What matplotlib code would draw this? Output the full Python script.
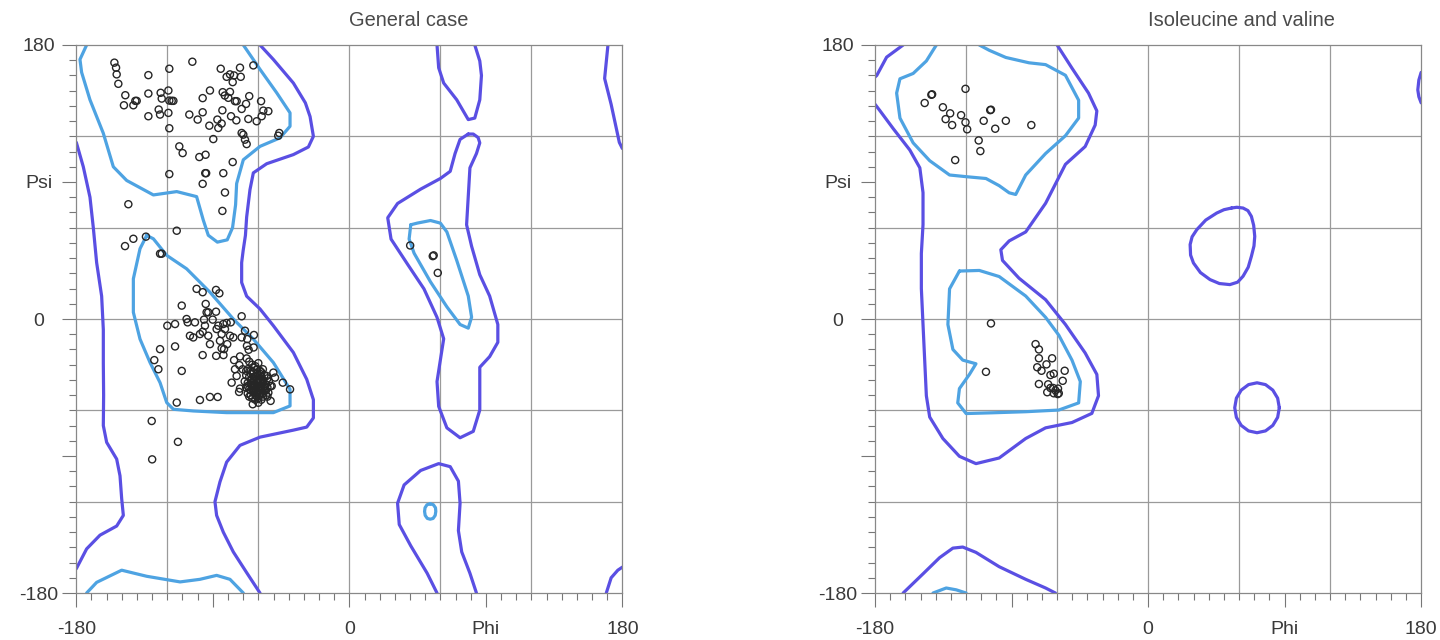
"""Ramachandran plots: general case vs isoleucine/valine, contours + residues."""
import matplotlib
matplotlib.use("Agg")
import matplotlib.pyplot as plt
from matplotlib.ticker import MultipleLocator

plt.rcParams["font.family"] = ["Liberation Sans", "DejaVu Sans"]

OUTER_COLOR = "#5a4fe3"
INNER_COLOR = "#4ea3e2"
GRID_COLOR = "#9a9a9a"
TEXT_COLOR = "#3a3a3a"

GRID_LINES = [-120, -60, 0, 60, 120]
MAJOR_TICKS = [-180, -90, 0, 90, 180]
X_LABELS = ["-180", "", "0", "Phi", "180"]
Y_LABELS = ["-180", "", "0", "Psi", "180"]

# ---- General case: contour paths as (phi, psi) in degrees ----
GEN_OUTER = [
    [(-180, 116), (-175.4, 100), (-171, 80), (-168.8, 60), (-166.6, 37), (-163.3, 15),
     (-162.2, -7), (-162.2, -29), (-162, -50), (-162.2, -70), (-160, -81), (-153.4, -92),
     (-151.2, -103), (-150.1, -118), (-149, -129), (-153.4, -136), (-164.4, -142),
     (-173.2, -151), (-180, -164)],
    [(170.5, 180), (168.3, 158), (172.6, 141), (178, 116), (180, 112)],
    [(180, -163), (177, -165), (172.6, -170), (169.4, -180)],
    [(-58.9, 180), (-50.1, 170.5), (-36.9, 155), (-29, 142), (-25.9, 133), (-23.7, 120),
     (-27, 113), (-36.9, 108), (-54.5, 102), (-63.3, 96), (-65.5, 85), (-67.7, 67),
     (-68.5, 55), (-70, 45), (-71, 37), (-71, 24), (-67.7, 15), (-58.9, 6.6), (-50.1, -4.4),
     (-36.9, -22), (-28.1, -39.6), (-23.7, -53), (-23.7, -65), (-28.1, -71),
     (-36.9, -73), (-58.9, -77.6), (-72.1, -83), (-80.9, -94), (-85.3, -107),
     (-88.6, -120), (-87.5, -129), (-83.1, -140), (-76.5, -153), (-67.7, -166.6),
     (-58.9, -180)],
    [(57.8, 180), (58.9, 165), (62.2, 155), (70.8, 144), (78.4, 131), (82.7, 132),
     (86, 144), (87.1, 160), (86, 169.5), (82.7, 180)],
    [(57.8, -180), (51.3, -167), (40.5, -149), (32.9, -135), (31.8, -121), (36.1, -109),
     (47, -99.5), (58.9, -95), (66.5, -97), (71.9, -106.5), (73, -121), (71.9, -139),
     (74.1, -153), (79.5, -167), (83.8, -180)],
    [(78.4, 121.5), (73, 118), (69.7, 108.7), (66.5, 97), (60, 92.3), (47, 85.3),
     (31.8, 75.9), (25.3, 66.5), (27.5, 52.5), (38.3, 36.1), (49.2, 19.8), (57.8, 1.1),
     (62.2, -13), (60, -27), (57.8, -41.1), (58.9, -57.4), (64.3, -71.5), (73, -78),
     (81.7, -73.8), (86, -59.8), (86, -41.1), (86, -31.7), (92.5, -24.7), (97.9, -15.3),
     (97.9, -3.6), (92.5, 15.1), (86, 29.1), (80.6, 47.8), (77.3, 61.9), (78.4, 80.6),
     (79.5, 99.3), (83.8, 108.7), (86, 115.7), (84.9, 119.2), (81.7, 121.5), (78.4, 121.5)],
]

GEN_INNER = [
    [(-173.2, 180), (-177.6, 170.5), (-176.5, 162), (-171, 144), (-162.2, 122),
     (-155.6, 100), (-146.8, 91), (-129.2, 81.5), (-113.8, 83.7), (-100.7, 80.4),
     (-96.3, 65), (-93, 55), (-87, 50.5), (-80.5, 52), (-77, 60), (-75, 75), (-74.3, 89),
     (-69.9, 104.6), (-58.9, 113.4), (-45.7, 119), (-39.1, 126.6), (-39.1, 135.4),
     (-47.9, 148.6), (-58.9, 164), (-69.9, 180)],
    [(-173.2, -180), (-166.6, -173), (-150.1, -165), (-133.6, -169), (-111.6, -172.7),
     (-98.5, -171), (-87.5, -168.4), (-78.7, -171), (-69.9, -180)],
    [(-133.6, 54.9), (-138, 46.2), (-142.4, 26.4), (-142.4, 4.4), (-138, -13.2),
     (-131.4, -28.6), (-124.8, -41.8), (-120.4, -54.9), (-116, -59.3), (-102.9, -60.4),
     (-80.9, -61.5), (-50.1, -61.5), (-39.1, -57.1), (-39.1, -46.2), (-50.1, -28.6),
     (-63.3, -13.2), (-76.5, 0), (-91.9, 17.6), (-107.3, 33), (-120.4, 41.8),
     (-129.2, 52.7), (-133.6, 54.9)],
    [(40.5, 61.9), (39.4, 52.5), (42.7, 43.2), (53.5, 24.4), (64.3, 8), (73, -3.6),
     (78.4, -6), (80.6, 1.2), (78.4, 15.1), (70.8, 38.5), (64.3, 57.2), (60, 63),
     (53.5, 64.7), (44.8, 63), (40.5, 61.9)],
    [(53.3, -121.4), (55.4, -122), (56.8, -124), (57, -126.4), (56.6, -129), (55.2, -131),
     (53.3, -131.5), (51.4, -131), (50, -129), (49.6, -126.4), (49.9, -124),
     (51.2, -122), (53.3, -121.4)],
]

GEN_POINTS = [
    # beta region
    (-154.9, 168.4), (-153.8, 165.1), (-153.4, 160.7), (-152.3, 154.5), (-132.5, 160.2),
    (-118.7, 164.4), (-103.5, 169), (-147.7, 147), (-148.6, 140.4), (-142.4, 140.4),
    (-141.1, 143.3), (-140.2, 143.3), (-132.5, 148.1), (-132.5, 133.2), (-125.7, 137.6),
    (-124.8, 134.3), (-124.4, 148.6), (-123.7, 144.8), (-119.3, 150.1), (-118.7, 143.5),
    (-117.1, 143.3), (-116, 143.3), (-119.3, 135.4), (-118.7, 125.3), (-105.5, 134.3),
    (-100, 131), (-96.7, 135.8), (-96.7, 145.1), (-91.9, 150.1), (-92.3, 127), (-87, 131),
    (-86.4, 125.5), (-84.2, 128.4), (-83.7, 137.1), (-89.7, 118.2), (-84.8, 164.4),
    (-80.9, 159.1), (-78.7, 160.7), (-76.9, 155.6), (-76, 160), (-72.1, 165.1),
    (-71.6, 159.1), (-63.3, 166.6), (-83.5, 149), (-82.1, 146.8), (-78.7, 149.2),
    (-79.8, 145.3), (-75.4, 143.1), (-74.3, 143.1), (-71, 138), (-68.1, 141.3), (-66, 146.4),
    (-66.6, 131.4), (-78, 133.2), (-74.5, 130.5), (-61.1, 129.9), (-58.2, 143.1),
    (-56.7, 136.9), (-53.4, 136.5), (-57.8, 133.2), (-71, 122.2), (-69.9, 121.1),
    (-68.8, 117.8), (-67.7, 114.9), (-46.2, 122.2), (-46.9, 120.4), (-112.1, 113.4),
    (-109.9, 109), (-98.9, 106.4), (-94.8, 107.9), (-76.9, 103.1), (-118.7, 95.2),
    (-95, 95.8), (-94.4, 95.8), (-83.1, 95.8), (-96.7, 88.8), (-82, 83.1), (-83.7, 71),
    (-145.7, 75.4), (-113.8, 58),
    # alpha region
    (-147.9, 47.9), (-142.4, 52.7), (-134.1, 54.1), (-124.8, 42.9), (-123.7, 42.9),
    (-100.7, 19.8), (-96.7, 17.6), (-87.9, 19.1), (-85.7, 16.9), (-110.5, 8.8),
    (-94.7, 9.9), (-94.1, 4.4), (-93, 4.4), (-87.9, 4.8), (-71, 1.8), (-120, -4.4),
    (-114.9, -3.3), (-107.3, 0), (-106.6, -2.2), (-101.8, -2.2), (-95.8, -0.4),
    (-90.1, -0.4), (-83.1, -3.3), (-80.9, -2.6), (-78.2, -2.2), (-86.4, -4.4),
    (-95.2, -4.4), (-105.1, -11), (-102.9, -12.1), (-98.5, -9.9), (-96.7, -8.4),
    (-93, -11), (-87.5, -6.6), (-84.2, -9.9), (-82, -6.6), (-78.7, -11), (-76.5, -12.1),
    (-71, -12.1), (-68.8, -7.7), (-62.9, -10.5), (-67.3, -13.2), (-91.9, -16.5),
    (-85.3, -14.3), (-80.5, -16.5), (-124.8, -19.8), (-114.9, -18), (-84.2, -19.3),
    (-82.6, -19.8), (-67.5, -17.6), (-66.4, -20.2), (-63.1, -18.7), (-96.7, -23.7),
    (-87.8, -24.2), (-83, -23.7), (-72.1, -24.6), (-67.7, -25.9), (-128.6, -27),
    (-125.9, -33), (-110.5, -34.1), (-76, -27), (-75.4, -33), (-72.5, -30.3), (-70.3, -33),
    (-77.6, -41.8), (-74.3, -37.4), (-72.1, -45.7), (-72.7, -47.9), (-113.8, -54.9),
    (-98.5, -53.2), (-91.9, -51.2), (-86.8, -51.2), (-63.7, -56), (-51.9, -53.8),
    (-50.1, -35.2), (-49, -38.5), (-43.9, -41.8), (-39.1, -46.2), (-54.5, -37.4),
    (-56.7, -40.7), (-58.9, -44), (-55.6, -46.2), (-53.4, -48.4), (-51.2, -44),
    # dense helical cluster
    (-66, -28), (-64, -30), (-62, -31), (-60, -29), (-67, -33), (-65, -34), (-63, -35),
    (-61, -33), (-59, -34), (-57, -33), (-68, -37), (-66, -38), (-64, -39), (-62, -38),
    (-60, -37), (-58, -38), (-56, -37), (-54, -39), (-69, -41), (-67, -42), (-65, -43),
    (-63, -41), (-61, -42), (-59, -41), (-57, -42), (-55, -43), (-53, -41), (-68, -45),
    (-66, -46), (-64, -45), (-62, -46), (-60, -45), (-58, -46), (-56, -47), (-54, -45),
    (-67, -49), (-65, -50), (-63, -48), (-61, -49), (-59, -50), (-57, -49), (-55, -50),
    (-64, -52), (-62, -53), (-60, -52), (-58, -53), (-63, -44), (-61, -40), (-65, -47),
    (-59, -44), (-63, -32), (-61, -36), (-65, -36), (-59, -36), (-57, -40), (-61, -44),
    (-63, -47), (-59, -47), (-61, -51), (-57, -51), (-55, -47), (-65, -40), (-67, -44),
    (-62, -43), (-60, -40), (-58, -43), (-60, -48), (-62, -50), (-64, -42), (-56, -44),
    (-66, -51), (-60, -55), (-63, -38), (-58, -35), (-52, -44), (-54, -51), (-68, -34),
    # below alpha
    (-130.3, -67), (-113, -80.7), (-130, -92.2),
    # left-handed region
    (40.1, 48.3), (55, 41.3), (55.6, 41.8), (58.3, 30.3),
]

# ---- Isoleucine and valine ----
IV_OUTER = [
    [(-161.5, 180), (-172.4, 172), (-178.9, 160), (-180, 159)],
    [(-180, 141), (-176.7, 136.7), (-168, 125), (-157.1, 111), (-150.5, 99.3), (-148.4, 83),
     (-148.4, 62), (-149.5, 43), (-149.5, 20), (-148.4, -3.6), (-147.3, -27),
     (-146.2, -50.4), (-144, -64.4), (-135.3, -78.5), (-124.4, -90.2), (-113.5, -95),
     (-98.2, -91.3), (-80.7, -78.5), (-67.6, -71.5), (-50.2, -68), (-37.1, -62),
     (-32.7, -50.4), (-33.8, -36.4), (-41.5, -22.3), (-54.5, -3.6), (-67.6, 12.7),
     (-85.1, 26.8), (-96, 38.5), (-97.1, 45.5), (-91.6, 51.3), (-80.7, 57.2), (-67.6, 76),
     (-54.5, 101.6), (-41.5, 113.3), (-34.9, 127.4), (-33.8, 136.7), (-39.3, 148.4),
     (-50.2, 164.8), (-60, 180)],
    [(-161.5, -180), (-148.4, -167.4), (-137.5, -156.8), (-128.7, -150.5), (-122.2, -149.8),
     (-113.5, -153.3), (-98.2, -162.7), (-80.7, -171), (-67.6, -176.7), (-61.1, -180)],
    [(180, 162), (178.5, 157), (177.8, 150.5), (178.5, 146), (180, 142)],
    [(55, 72.9), (50, 71.8), (45.2, 69.6), (38, 65), (32.1, 58.7), (29, 54), (27.7, 48.9),
     (28, 42), (29.9, 36.8), (34.5, 30.5), (40.8, 25.9), (47, 23.3), (53.9, 22.6),
     (59, 24.2), (62.6, 28.1), (66, 34), (68.1, 41.2), (69.8, 48), (70.3, 54.3),
     (69.6, 61.5), (68.1, 67.4), (65.8, 71.2), (62.6, 72.9), (58.5, 73.4), (55, 72.9)],
    [(86.5, -58.3), (85.4, -52), (82.2, -46.7), (77.4, -43.1), (71.8, -41.9),
     (66.2, -43.1), (61.4, -46.7), (58.2, -52), (57.1, -58.3), (58.2, -64.6),
     (61.4, -69.9), (66.2, -73.5), (71.8, -74.7), (77.4, -73.5), (82.2, -69.9),
     (85.4, -64.6), (86.5, -58.3)],
]

IV_INNER = [
    [(-139.6, 180), (-146.2, 169.5), (-154.9, 161.3), (-163.6, 157.8), (-165.8, 148.4),
     (-163.6, 132), (-154.9, 115.7), (-144, 104), (-130.9, 94.6), (-120, 93.5),
     (-106.9, 92.3), (-98.2, 87.6), (-91.6, 82.9), (-87.3, 81.8), (-80.7, 94.6),
     (-67.6, 108.7), (-54.5, 120.4), (-45.8, 132), (-45.8, 143.7), (-54.5, 160.1),
     (-67.6, 167.1), (-78.5, 168.3), (-93.8, 171.8), (-104.7, 176.5), (-111.3, 180)],
    [(-141.8, -180), (-133.1, -176.7), (-126.5, -177.9), (-120, -180)],
    [(-124.4, 31.5), (-130.9, 19.8), (-132, -3.6), (-128.7, -20), (-122.2, -27),
     (-113.5, -29.4), (-117.8, -36.4), (-124.4, -45.7), (-125.5, -55.1), (-120, -62.1),
     (-102.5, -61.6), (-80.7, -60.9), (-58.9, -59.8), (-45.8, -55.1), (-44.7, -41.1),
     (-50.2, -27), (-58.9, -10.6), (-67.6, 1.1), (-80.7, 15.1), (-98.2, 27.9),
     (-111.3, 31.9), (-124.4, 31.5)],
]

IV_POINTS = [
    (-142.9, 147.3), (-142.4, 147.6), (-147.3, 141.9), (-120.4, 151.2), (-135.3, 139.1),
    (-130.5, 135.1), (-123.3, 133.9), (-133.5, 131.3), (-120.4, 129.2), (-129.2, 127.4),
    (-119.3, 124.6), (-104.1, 137.2), (-103.6, 137.5), (-108.4, 130.2), (-93.8, 130.2),
    (-100.8, 125), (-77, 127.4), (-111.7, 117.3), (-110.6, 110.3), (-127.2, 104.4),
    (-103.6, -2.9), (-106.9, -34.7), (-74.2, -16.5), (-72, -20), (-72, -25.8),
    (-63.3, -25.8), (-67, -29.8), (-73.1, -31.7), (-70.3, -34), (-64.4, -36.8),
    (-62.2, -35.9), (-55, -34), (-56.3, -40.6), (-72, -42.7), (-65.9, -42.9),
    (-64.4, -45.3), (-62.6, -45.3), (-61.1, -46.9), (-59.4, -45.7), (-66.5, -48.1),
    (-62.2, -48.8), (-59.6, -49.3), (-58.9, -48.8),
]


def draw_panel(fig, rect, title, outer, inner, points):
    ax = fig.add_axes(rect)
    ax.set_xlim(-180, 180)
    ax.set_ylim(-180, 180)

    for v in GRID_LINES:
        ax.axvline(v, color=GRID_COLOR, lw=0.9, zorder=0)
        ax.axhline(v, color=GRID_COLOR, lw=0.9, zorder=0)

    for seg in outer:
        phi, psi = zip(*seg)
        ax.plot(phi, psi, color=OUTER_COLOR, lw=2.3, solid_capstyle="round",
                solid_joinstyle="round", zorder=2)
    for seg in inner:
        phi, psi = zip(*seg)
        ax.plot(phi, psi, color=INNER_COLOR, lw=2.3, solid_capstyle="round",
                solid_joinstyle="round", zorder=2)

    phi, psi = zip(*points)
    ax.scatter(phi, psi, s=26, facecolors="none", edgecolors="#262626",
               linewidths=1.0, zorder=3)

    ax.set_xticks(MAJOR_TICKS)
    ax.set_xticklabels(X_LABELS)
    ax.set_yticks(MAJOR_TICKS)
    ax.set_yticklabels(Y_LABELS)
    ax.xaxis.set_minor_locator(MultipleLocator(10))
    ax.yaxis.set_minor_locator(MultipleLocator(10))
    ax.tick_params(which="major", length=10, width=0.8, color="#777777",
                   labelsize=14, labelcolor=TEXT_COLOR)
    ax.tick_params(which="minor", length=5, width=0.8, color="#777777")
    ax.tick_params(axis="x", which="major", pad=10)
    ax.tick_params(axis="y", which="major", pad=17)
    for lbl in ax.get_yticklabels():
        lbl.set_horizontalalignment("center")

    for sp in ax.spines.values():
        sp.set_color("#888888")
        sp.set_linewidth(0.9)

    ax.text(0, 1.045, title, transform=ax.get_xaxis_transform(), ha="left",
            va="center", fontsize=14.4, color="#4a4a4a")
    return ax


fig = plt.figure(figsize=(14.4, 6.4), dpi=100)
draw_panel(fig, [0.053, 0.0734, 0.3792, 0.8563], "General case",
           GEN_OUTER, GEN_INNER, GEN_POINTS)
draw_panel(fig, [0.6077, 0.0734, 0.3792, 0.8563], "Isoleucine and valine",
           IV_OUTER, IV_INNER, IV_POINTS)
fig.savefig("out.png", dpi=100)
